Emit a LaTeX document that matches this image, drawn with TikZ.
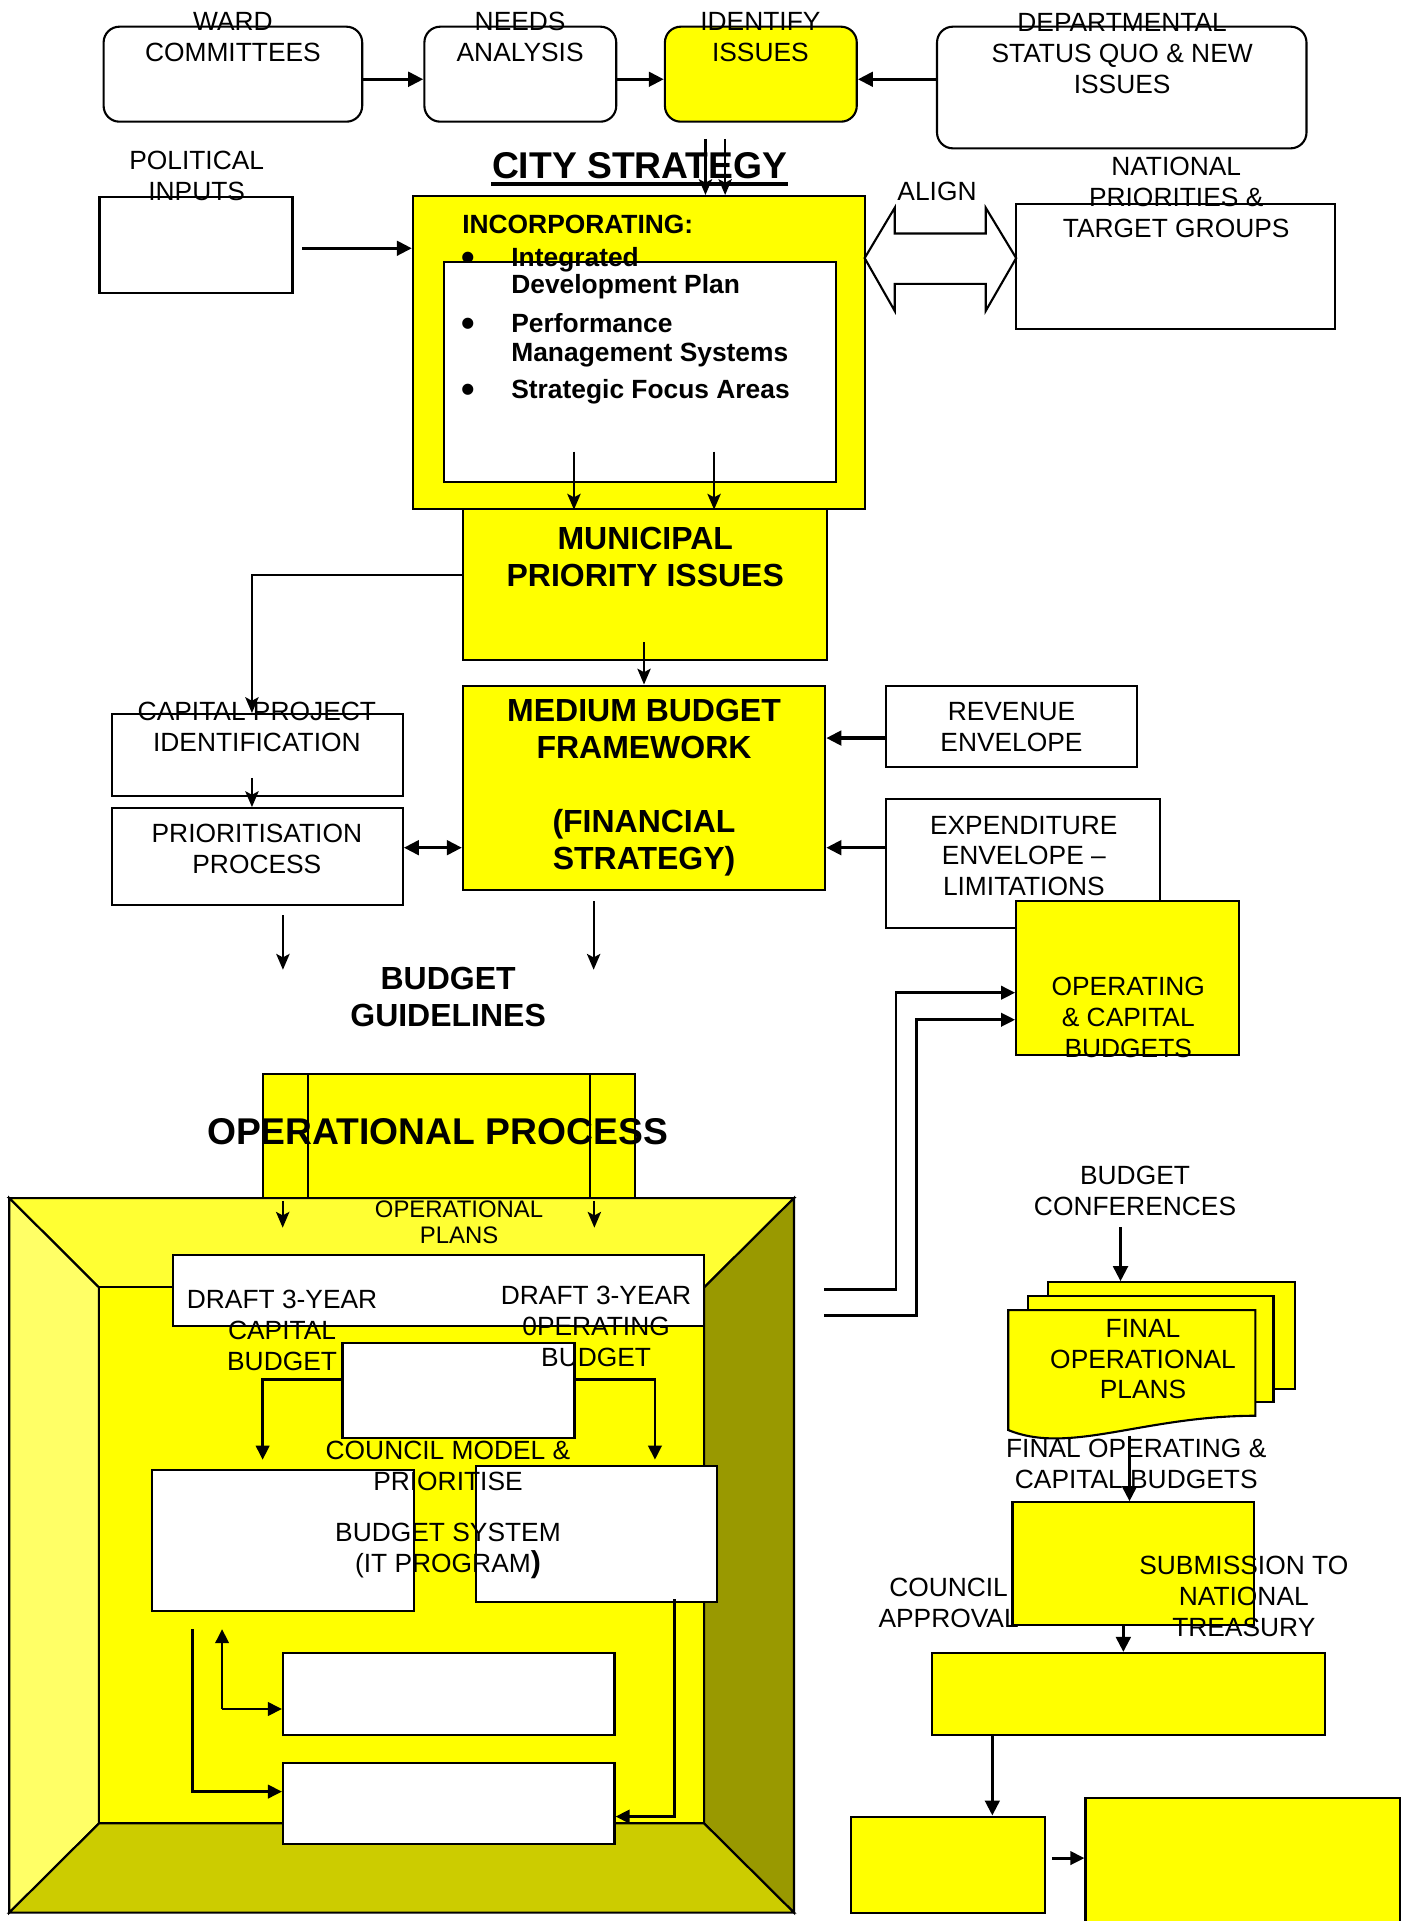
\documentclass[tikz,border=0pt]{standalone}
\usepackage{fontspec}
\setmainfont{Liberation Sans}
\usepackage{tikz}
\usetikzlibrary{calc,arrows.meta,positioning,fit}
\definecolor{yel}{HTML}{FFFF00}
\definecolor{beveltop}{HTML}{FFFF33}
\definecolor{bevelleft}{HTML}{FFFF66}
\definecolor{bevelright}{HTML}{999900}
\definecolor{bevelbottom}{HTML}{CCCC00}
\newcommand{\rmtxt}{\fontsize{7.5}{8.8}\selectfont}
\newcommand{\bftxt}{\bfseries\fontsize{9.1}{10.5}\selectfont}

\tikzset{
  box/.style={draw, line width=0.6pt, inner sep=0pt},
  rbox/.style={box, rounded corners=4.5pt},
  ybox/.style={box, fill=yel},
  wbox/.style={box, fill=white},
  lbl/.style={inner sep=0pt, align=center, font=\rmtxt},
  blbl/.style={inner sep=0pt, align=center, font=\bftxt},
  ttl/.style={inner sep=0pt, font=\bfseries\fontsize{10.6}{12}\selectfont},
  itm/.style={inner sep=0pt, anchor=base west, font=\bfseries\fontsize{7.5}{8.5}\selectfont},
  bul/.style={inner sep=0pt, font=\bfseries\fontsize{11}{11}\selectfont},
  hvy/.style={-{Triangle[length=4.3pt,width=4.1pt]}, line width=1pt},
  mid/.style={-{Triangle[length=4pt,width=3.8pt]}, line width=0.8pt},
  thn/.style={-{Stealth[length=4.5pt,width=3.8pt,inset=1pt]}, line width=0.6pt},
}

\begin{document}
\begin{tikzpicture}[x=0.1229mm, y=-0.1229mm]
    \useasboundingbox (0,0) rectangle (1144,1563);

    \node[rbox, fit={(84.3,21.7) (294.7,99)}] (ward) {};
    \node[rbox, fit={(345.3,21.7) (501.4,99)}] (needs) {};
    \node[rbox, fill=yel, fit={(541,21.7) (697.1,99)}] (ident) {};
    \node[rbox, fit={(762.4,21.7) (1063,120.7)}] (dept) {};
    \node[lbl] (wardT) at (189.5,30.2) {WARD\\COMMITTEES};
    \node[lbl] (needsT) at (423.2,30.2) {NEEDS\\ANALYSIS};
    \node[lbl] (identT) at (618.7,30.2) {IDENTIFY\\ISSUES};
    \node[lbl] (deptT) at (913,43.4) {DEPARTMENTAL\\STATUS QUO \& NEW\\ISSUES};
    \coordinate (rowA) at (0,64.5);
    \draw[hvy] (ward.east |- rowA) -- (needs.west |- rowA);
    \draw[hvy] (needs.east |- rowA) -- (ident.west |- rowA);
    \draw[hvy] (dept.west |- rowA) -- (ident.east |- rowA);

    \node[lbl] (polT) at (160,143.3) {POLITICAL\\INPUTS};
    \node[box, fit={(81,160.6) (238,238.6)}] (pol) {};

    \node[ybox, fit={(336,159.5) (703.5,413.8)}] (strat) {};
    \node[wbox, fit={(361,213) (680,392)}] (incl) {};
    \node[ttl] (cityT) at (520.5,134.6) {CITY STRATEGY};
    \draw[line width=1.1pt] ([yshift=-1.3pt]cityT.south west) -- ([yshift=-1.3pt]cityT.south east);
    \coordinate (u1) at (574,113);
    \coordinate (u2) at (590,113);
    \draw[thn] (u1) -- (u1 |- strat.north);
    \draw[thn] (u2) -- (u2 |- strat.north);
    \coordinate (p0) at (246,202);
    \draw[hvy] (p0) -- (p0 -| strat.west);

    \node[itm] (incT) at (375.6,190) {INCORPORATING:};
    \node[itm] (it1a) at (415.5,216.5) {Integrated};
    \node[itm] (it1b) at (415.5,239) {Development Plan};
    \node[itm] (it2a) at (415.5,270.7) {Performance};
    \node[itm] (it2b) at (415.5,294.3) {Management Systems};
    \node[itm] (it3a) at (415.5,324) {Strategic Focus Areas};
    \node[bul] (b1) at (381,212.7) {\textbullet};
    \node[bul] (b2) at (381,266.6) {\textbullet};
    \node[bul] (b3) at (381,320.3) {\textbullet};

    \draw[line width=0.6pt, fill=white] (703.5,210) -- (728,169) -- (728,190) -- (802,190) -- (802,169)
      -- (826.8,210) -- (802,253) -- (802,231) -- (728,231) -- (728,253) -- cycle;
    \node[lbl] (alignT) at (762.4,155.7) {ALIGN};
    \node[box, fit={(826.8,165.7) (1086.4,268)}] (natl) {};
    \node[lbl] (natlT) at (957,160.8) {NATIONAL\\PRIORITIES \&\\TARGET GROUPS};

    \node[ybox, fit={(376.7,413.8) (673,536.7)}] (munic) {};
    \node[blbl] (municT) at (525,453.4) {MUNICIPAL\\PRIORITY ISSUES};
    \coordinate (d1) at (467,367.5);
    \coordinate (d2) at (581,367.5);
    \draw[thn] (d1) -- (d1 |- strat.south);
    \draw[thn] (d2) -- (d2 |- strat.south);

    \node[ybox, fit={(376.7,557.8) (671.4,724)}] (medium) {};
    \node[blbl] (mediumT) at (524,641) {MEDIUM BUDGET\\FRAMEWORK\\[10.5pt](FINANCIAL\\STRATEGY)};
    \coordinate (m1) at (205,468);
    \coordinate (m2) at (524,522.4);
    \draw[thn] (m2) -- (m2 |- medium.north);

    \node[box, fit={(720.6,557.8) (925,624.4)}] (rev) {};
    \node[lbl] (revT) at (823,591.9) {REVENUE\\ENVELOPE};
    \node[box, fit={(720.6,650) (944,755)}] (expd) {};
    \node[lbl] (expdT) at (833,696.5) {EXPENDITURE\\ENVELOPE –\\LIMITATIONS};
    \coordinate (rowR) at (0,600.5);
    \coordinate (rowE) at (0,689.7);
    \draw[hvy] (rev.west |- rowR) -- (medium.east |- rowR);
    \draw[hvy] (expd.west |- rowE) -- (medium.east |- rowE);
    \node[ybox, fit={(826.8,733.4) (1008,858.5)}] (opcap) {};
    \node[lbl] (opcapT) at (918,827.8) {OPERATING\\\& CAPITAL\\BUDGETS};

    \node[box, fit={(91,581) (327.7,647.7)}] (capid) {};
    \node[box, fit={(91,657.5) (327.7,736)}] (prio) {};
    \draw[thn] (m1 -| munic.west) -- (m1) -- (m1 |- capid.north);
    \node[lbl] (capidT) at (209,591.7) {CAPITAL PROJECT\\IDENTIFICATION};
    \node[lbl] (prioT) at (209,690.8) {PRIORITISATION\\PROCESS};
    \coordinate (c1) at (205,633);
    \draw[thn] (c1) -- (c1 |- prio.north);
    \draw[hvy, {Triangle[length=4.3pt,width=4.1pt]}-{Triangle[length=4.3pt,width=4.1pt]}] (prio.east |- rowE) -- (medium.west |- rowE);

    \coordinate (g1) at (230.2,744.7);
    \coordinate (g1e) at (230.2,789);
    \coordinate (g2) at (483,733.4);
    \coordinate (g2e) at (483,789);
    \draw[thn] (g1) -- (g1e);
    \draw[thn] (g2) -- (g2e);
    \node[blbl] (guideT) at (364.6,811.3) {BUDGET\\GUIDELINES};

    \node[ybox, fit={(213.7,873.5) (516.6,974.8)}] (ophead) {};
    \draw[line width=0.6pt] (250.4,873.5) -- (250.4,974.8) (479.8,873.5) -- (479.8,974.8);
    \node[ttl] (opT) at (356,920.7) {OPERATIONAL PROCESS};

    \draw[line width=0.6pt, fill=beveltop] (7.5,974.8) -- (646,974.8) -- (572.9,1047.5) -- (80.5,1047.5) -- cycle;
    \draw[line width=0.6pt, fill=bevelleft] (7.5,974.8) -- (80.5,1047.5) -- (80.5,1483.6) -- (7.5,1556.2) -- cycle;
    \draw[line width=0.6pt, fill=bevelright] (646,974.8) -- (646,1556.2) -- (572.9,1483.6) -- (572.9,1047.5) -- cycle;
    \draw[line width=0.6pt, fill=bevelbottom] (7.5,1556.2) -- (80.5,1483.6) -- (572.9,1483.6) -- (646,1556.2) -- cycle;
    \draw[line width=0.6pt, fill=yel] (80.5,1047.5) rectangle (572.9,1483.6);

    \coordinate (q1) at (230,977);
    \coordinate (q2) at (483.6,977);
    \draw[thn] (q1) -- ++(0,21.9);
    \draw[thn] (q2) -- ++(0,21.9);
    \node[lbl, font=\fontsize{6.8}{7.35}\selectfont] (planT) at (373.5,994.7) {OPERATIONAL\\PLANS};

    \node[wbox, fit={(140.6,1021) (572.5,1079.2)}] (draft) {};
    \node[wbox, fit={(278.7,1092.8) (467.4,1170)}] (cmodel) {};
    \node[lbl] (dcapT) at (229.5,1082.8) {DRAFT 3-YEAR\\CAPITAL\\BUDGET};
    \node[lbl] (dopT) at (485,1079) {DRAFT 3-YEAR\\0PERATING\\BUDGET};
    \node[wbox, fit={(124,1196) (336.7,1311)}] (lsys) {};
    \node[wbox, fit={(387.2,1192.8) (583.4,1303.2)}] (rsys) {};
    \coordinate (k1) at (213.7,1122.4);
    \coordinate (k2) at (532.9,1122.4);
    \draw[mid, shorten >=2.6pt] (cmodel.west |- k1) -- (k1) -- (k1 |- lsys.north);
    \draw[mid, shorten >=1.5pt] (cmodel.east |- k2) -- (k2) -- (k2 |- rsys.north);
    \node[lbl] (cmodelT) at (364.5,1193) {COUNCIL MODEL \&\\PRIORITISE};
    \node[lbl] (sysT) at (364.5,1262) {BUDGET SYSTEM\\(IT PROGRAM{\bfseries\fontsize{8.6}{8.8}\selectfont )}};

    \node[wbox, fit={(230.3,1345) (500,1411.7)}] (boxa) {};
    \node[wbox, fit={(230.3,1434.5) (500,1500.4)}] (boxb) {};
    \coordinate (e1) at (180.7,1390.5);
    \coordinate (e1t) at (180.7,1325.5);
    \draw[mid] (e1) -- (e1t);
    \draw[mid] (e1) -- (e1 -| boxa.west);
    \coordinate (e2) at (156.5,1325.5);
    \coordinate (e2b) at (156.5,1457.7);
    \draw[mid] (e2) -- (e2b) -- (e2b -| boxb.west);
    \coordinate (e3) at (549.1,1301);
    \coordinate (e3b) at (549.1,1478);
    \draw[mid] (e3) -- (e3b) -- (e3b -| boxb.east);

    \coordinate (f1) at (670.6,1049);
    \coordinate (f1k) at (729,807.7);
    \coordinate (f2) at (670.6,1070.5);
    \coordinate (f2k) at (745.5,829.7);
    \draw[mid] (f1) -| (f1k) -- (f1k -| opcap.west);
    \draw[mid] (f2) -| (f2k) -- (f2k -| opcap.west);

    \node[lbl] (confT) at (923.5,969) {BUDGET\\CONFERENCES};
    \node[ybox, fit={(852.7,1043.4) (1053.3,1130)}] (doc3) {};
    \node[ybox, fit={(836.7,1054.2) (1036.2,1141)}] (doc2) {};
    \draw[line width=0.6pt, fill=yel] (820.3,1066) -- (1021.4,1066) -- (1021.4,1151.9)
      .. controls (930,1152) and (870,1184) .. (820.3,1163.5) -- cycle;
    \node[lbl] (docT) at (930,1105.8) {FINAL\\OPERATIONAL\\PLANS};
    \coordinate (b0) at (911.7,998.4);
    \draw[hvy] (b0) -- (b0 |- doc3.north);

    \node[ybox, fit={(823.8,1222.4) (1020.2,1322.3)}] (subm) {};
    \coordinate (s0) at (919,1168);
    \draw[hvy] (s0) -- (s0 |- subm.north);
    \node[lbl] (finT) at (924.5,1191.3) {FINAL OPERATING \&\\CAPITAL BUDGETS};
    \node[ybox, fit={(758.4,1345) (1077.7,1411.3)}] (appr) {};
    \coordinate (s2) at (914,1322.3);
    \draw[hvy] (s2) -- (s2 |- appr.north);
    \node[lbl] (submT) at (1012,1299) {SUBMISSION TO\\NATIONAL\\TREASURY};
    \node[lbl] (apprT) at (771.8,1304.5) {COUNCIL\\APPROVAL};

    \node[ybox, fit={(692.7,1478.1) (850.1,1556.2)}] (fin1) {};
    \node[ybox, fit={(883.2,1463.1) (1139.3,1580)}] (fin2) {};
    \coordinate (s3) at (807.4,1411.3);
    \draw[hvy] (s3) -- (s3 |- fin1.north);
    \coordinate (s4) at (855.8,1511.8);
    \draw[mid] (s4) -- (s4 -| fin2.west);
\end{tikzpicture}
\end{document}
